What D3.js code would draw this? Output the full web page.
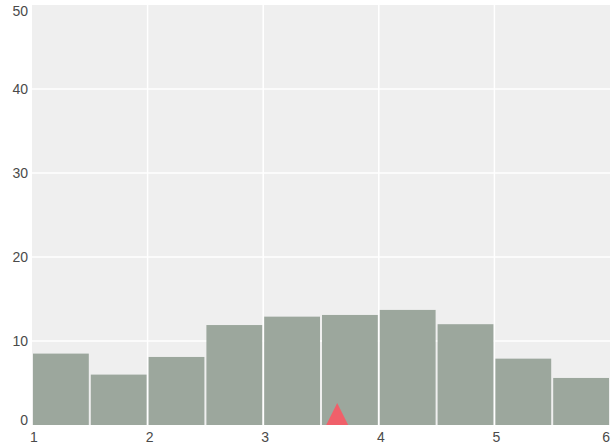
<!DOCTYPE html>
<html>
<head>
<meta charset="utf-8">
<script src="https://cdn.jsdelivr.net/npm/d3@7"></script>
<style>
  body { margin: 0; background: #fff; }
  text { font-family: "Liberation Sans", Arial, sans-serif; }
</style>
</head>
<body>
<script>
const w = 612;
const h = 445;

// Data

const binStarts = [1, 1.5, 2, 2.5, 3, 3.5, 4, 4.5, 5, 5.5];
const binWidth = 0.5;
const counts = [8.5, 6, 8.1, 11.9, 12.9, 13.1, 13.7, 12, 7.9, 5.6];
const xTicks = [1, 2, 3, 4, 5, 6];
const yTicks = [0, 10, 20, 30, 40, 50];
const marker = 3.64;

const margin = { top: 5, right: 2, bottom: 20, left: 32 };

// SVG

const svg = d3.select("body").append("svg").attr("width", w).attr("height", h);

const x = d3.scaleLinear().domain([1, 6]).range([margin.left, w - margin.right]);
const y = d3.scaleLinear().domain([0, 50]).range([h - margin.bottom, margin.top]);

// Background

svg
  .append("rect")
  .attr("x", x(1))
  .attr("y", y(50))
  .attr("width", x(6) - x(1))
  .attr("height", y(0) - y(50))
  .attr("fill", "#efefef");

// Grid

svg
  .append("g")
  .selectAll("line")
  .data(yTicks.slice(1, -1))
  .join("line")
  .attr("x1", x(1))
  .attr("x2", x(6))
  .attr("y1", (d) => y(d))
  .attr("y2", (d) => y(d))
  .attr("stroke", "#fff")
  .attr("stroke-width", 1.5);

svg
  .append("g")
  .selectAll("line")
  .data(xTicks.slice(1, -1))
  .join("line")
  .attr("x1", (d) => x(d))
  .attr("x2", (d) => x(d))
  .attr("y1", y(0))
  .attr("y2", y(50))
  .attr("stroke", "#fff")
  .attr("stroke-width", 1.5);

// Bars

svg
  .append("g")
  .selectAll("rect")
  .data(counts)
  .join("rect")
  .attr("x", (d, i) => x(binStarts[i]) + 1)
  .attr("width", (d, i) => x(binStarts[i] + binWidth) - x(binStarts[i]) - 2)
  .attr("y", (d) => y(d))
  .attr("height", (d) => y(0) - y(d))
  .attr("fill", "#9ca79d");

// Marker

const mx = x(marker);
const my = y(0);
svg
  .append("path")
  .attr("d", `M${mx - 11},${my} L${mx},${my - 22} L${mx + 11},${my} Z`)
  .attr("fill", "#f0606a");

// Axis labels

const last = xTicks.length - 1;
svg
  .append("g")
  .selectAll("text")
  .data(xTicks)
  .join("text")
  .attr("x", (d, i) => (i === last ? x(d) : x(d) + 2))
  .attr("y", h - 3)
  .attr("text-anchor", (d, i) => (i === last ? "end" : "middle"))
  .attr("font-size", 14)
  .attr("fill", "#4a4a4a")
  .text((d) => d);

svg
  .append("g")
  .selectAll("text")
  .data(yTicks)
  .join("text")
  .attr("x", 28)
  .attr("y", (d) => Math.min(Math.max(y(d) + 5, 16), y(0)))
  .attr("text-anchor", "end")
  .attr("font-size", 14)
  .attr("fill", "#4a4a4a")
  .text((d) => d);
</script>
</body>
</html>
